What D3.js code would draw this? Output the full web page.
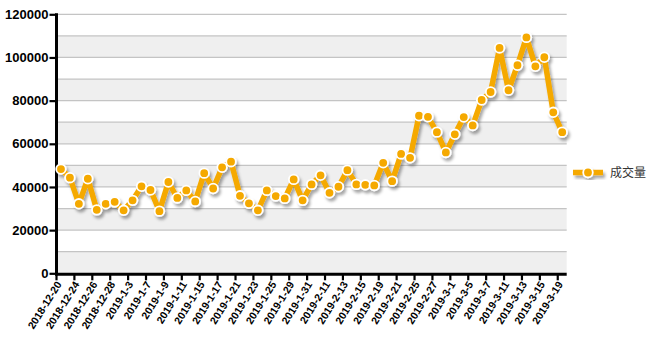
<!DOCTYPE html>
<html><head><meta charset="utf-8">
<script src="https://cdn.jsdelivr.net/npm/d3@7"></script>
<style>
html,body{margin:0;padding:0;background:#fff;}
svg{display:block;}
</style></head>
<body>
<svg id="chart" width="651" height="344"></svg>
<script>
const dates = ["2018-12-20","2018-12-21","2018-12-24","2018-12-25","2018-12-26","2018-12-27","2018-12-28",
"2019-1-2","2019-1-3","2019-1-4","2019-1-7","2019-1-8","2019-1-9","2019-1-10","2019-1-11","2019-1-14","2019-1-15",
"2019-1-16","2019-1-17","2019-1-18","2019-1-21","2019-1-22","2019-1-23","2019-1-24","2019-1-25","2019-1-28","2019-1-29",
"2019-1-30","2019-1-31","2019-2-1","2019-2-11","2019-2-12","2019-2-13","2019-2-14","2019-2-15","2019-2-18","2019-2-19",
"2019-2-20","2019-2-21","2019-2-22","2019-2-25","2019-2-26","2019-2-27","2019-2-28","2019-3-1","2019-3-4","2019-3-5",
"2019-3-6","2019-3-7","2019-3-8","2019-3-11","2019-3-12","2019-3-13","2019-3-14","2019-3-15","2019-3-18","2019-3-19"];
const volume = [48300,44300,32200,43800,29400,32200,33100,29200,33800,40300,38600,28800,42300,34900,38400,33300,46400,
39300,49100,51700,35900,32400,29200,38400,35800,34700,43500,33800,41200,45400,37300,40100,47800,41200,41000,40700,
51200,42700,55300,53500,73000,72500,65400,56000,64400,72400,68500,80300,84000,104400,84800,96400,109300,95900,100100,74600,65400];
const tickLabels = dates.filter((d,i)=>i%2===0);
const yTicks = [0,20000,40000,60000,80000,100000,120000];
const seriesName = "成交量";

const svg = d3.select("#chart");
const pL = 56.5, pR = 566.7, pT = 14.3, pB = 273.3;
const color = "#f5a900";

const defs = svg.append("defs");
const f = defs.append("filter").attr("id","shadow").attr("x","-20%").attr("y","-20%").attr("width","140%").attr("height","140%");
f.append("feDropShadow").attr("dx",2).attr("dy",3).attr("stdDeviation",1.6).attr("flood-color","#000").attr("flood-opacity",0.35);

const x = d3.scaleBand().domain(dates).range([pL,pR]).padding(0);
const y = d3.scaleLinear().domain([0,120000]).range([pB,pT]);

// bands
const minor = d3.range(0,120000,10000);
svg.append("g").selectAll("rect").data(minor.filter(v=>v%20000===0)).join("rect")
  .attr("x",pL).attr("width",pR-pL)
  .attr("y",d=>y(d+10000)).attr("height",d=>y(d)-y(d+10000))
  .attr("fill","#efefef");
svg.append("g").selectAll("line").data(d3.range(10000,130000,10000)).join("line")
  .attr("x1",pL).attr("x2",pR).attr("y1",d=>y(d)).attr("y2",d=>y(d))
  .attr("stroke","#c4c4c4").attr("stroke-width",1.3);

// y axis
const ya = svg.append("g").attr("transform",`translate(${pL},0)`)
  .call(d3.axisLeft(y).tickValues(yTicks).tickSize(7).tickSizeOuter(0).tickFormat(d3.format("d")));
ya.select(".domain").remove();
ya.selectAll(".tick line").attr("stroke","#000").attr("stroke-width",2.2);
ya.selectAll(".tick text").attr("x",-8).attr("font-family","Liberation Sans, Arial, sans-serif")
  .attr("font-weight","bold").attr("font-size","13px").attr("fill","#000");
svg.append("line").attr("x1",pL).attr("x2",pL).attr("y1",pT-1).attr("y2",pB+2)
  .attr("stroke","#000").attr("stroke-width",3);

// x axis
const xa = svg.append("g").attr("transform",`translate(0,${pB})`);
xa.selectAll("line").data(tickLabels).join("line")
  .attr("x1",d=>x(d)).attr("x2",d=>x(d)).attr("y1",0).attr("y2",7)
  .attr("stroke","#000").attr("stroke-width",2.2);
xa.selectAll("text").data(tickLabels).join("text")
  .attr("transform",d=>`translate(${x(d)+x.bandwidth()/2+1},${11}) rotate(-58)`)
  .attr("text-anchor","end")
  .attr("font-family","Liberation Sans, Arial, sans-serif").attr("font-weight","bold")
  .attr("font-size","10.5px").attr("fill","#000").text(d=>d);
svg.append("line").attr("x1",pL-1.5).attr("x2",pR).attr("y1",pB+1).attr("y2",pB+1)
  .attr("stroke","#000").attr("stroke-width",3);

// series
const cx = d=>x(d)+x.bandwidth()/2;
const g = svg.append("g").attr("filter","url(#shadow)");
g.append("path").datum(volume)
  .attr("d",d3.line().x((v,i)=>cx(dates[i])).y(v=>y(v)))
  .attr("fill","none").attr("stroke",color).attr("stroke-width",5.5)
  .attr("stroke-linejoin","miter").attr("stroke-miterlimit",2);
g.selectAll("circle").data(volume).join("circle")
  .attr("cx",(v,i)=>cx(dates[i])).attr("cy",v=>y(v)).attr("r",4.8)
  .attr("fill",color).attr("stroke","#fff").attr("stroke-width",1.8);

// legend
const lg = svg.append("g");
const lgi = lg.append("g").attr("filter","url(#shadow)");
lgi.append("line").attr("x1",573).attr("x2",603).attr("y1",172.5).attr("y2",172.5)
  .attr("stroke",color).attr("stroke-width",5.5);
lgi.append("circle").attr("cx",588).attr("cy",172.5).attr("r",4.8)
  .attr("fill",color).attr("stroke","#fff").attr("stroke-width",1.8);
lg.append("text").attr("x",610).attr("y",177).attr("font-family","Noto Sans CJK SC, sans-serif")
  .attr("font-size","12px").attr("fill","#333").text(seriesName);
</script>
</body></html>
